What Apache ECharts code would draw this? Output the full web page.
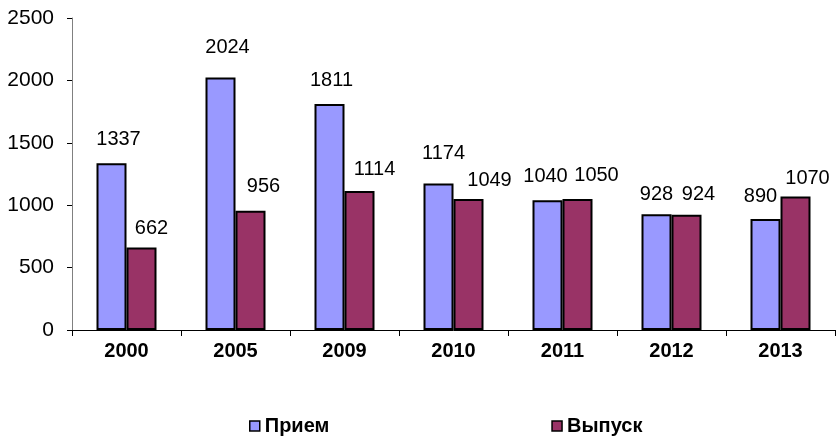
<!DOCTYPE html>
<html>
<head>
<meta charset="utf-8">
<script src="https://cdn.jsdelivr.net/npm/echarts@6/dist/echarts.min.js"></script>
<style>
    html, body { margin: 0; padding: 0; background: #fff; }
    #chart { width: 836px; height: 437px; }
</style>
</head>
<body>
<div id="chart"></div>
<script>
let years = ['2000', '2005', '2009', '2010', '2011', '2012', '2013'];
let priem = [1337, 2024, 1811, 1174, 1040, 928, 890];
let vypusk = [662, 956, 1114, 1049, 1050, 924, 1070];

// сдвиг подписей, как их раскидал Excel
let priemLabelShift = [[7, -5], [7, -11], [2, -5], [5, -11], [-2, -5], [0, -1], [-5, -3]];
let vypuskLabelShift = [[10, 0], [13, -5], [15, -2], [21, 0], [19, -4], [12, -1], [12, 1]];

let chart = echarts.init(document.getElementById('chart'));

function barSeries(name, data, shift, color) {
    return {
        name: name,
        type: 'bar',
        barWidth: 30,
        barGap: '0%',
        itemStyle: {
            color: color,
            borderColor: '#000',
            borderWidth: 2
        },
        label: {
            show: true,
            position: 'top',
            distance: 9,
            color: '#000',
            fontFamily: 'Liberation Sans, Arial',
            fontSize: 20
        },
        data: data.map((v, i) => ({
            value: v,
            label: { offset: shift[i] }
        }))
    };
}

chart.setOption({
    animation: false,
    grid: {
        left: 72,
        right: 1,
        top: 18,
        bottom: 107
    },
    legend: {
        left: 244,
        top: 411,
        itemWidth: 10,
        itemHeight: 10,
        itemGap: 222,
        icon: 'rect',
        itemStyle: { borderColor: '#000', borderWidth: 1.5 },
        textStyle: {
            fontFamily: 'Liberation Sans, Arial',
            fontSize: 20,
            fontWeight: 'bold',
            color: '#000'
        },
        data: ['Прием', 'Выпуск']
    },
    xAxis: {
        type: 'category',
        data: years,
        axisLine: { lineStyle: { color: '#000', width: 1 } },
        axisTick: { show: true, length: 6, lineStyle: { color: '#000' } },
        axisLabel: {
            color: '#000',
            fontFamily: 'Liberation Sans, Arial',
            fontSize: 20,
            fontWeight: 'bold',
            margin: 11
        }
    },
    yAxis: {
        type: 'value',
        min: 0,
        max: 2500,
        interval: 500,
        axisLine: { show: true, lineStyle: { color: '#808080', width: 1 } },
        axisTick: { show: true, length: 5, lineStyle: { color: '#000' } },
        splitLine: { show: false },
        axisLabel: {
            color: '#000',
            fontFamily: 'Liberation Sans, Arial',
            fontSize: 21,
            margin: 18,
            formatter: function (v) { return String(v); }
        }
    },
    series: [
        barSeries('Прием', priem, priemLabelShift, '#9999ff'),
        barSeries('Выпуск', vypusk, vypuskLabelShift, '#993366')
    ]
});
</script>
</body>
</html>
